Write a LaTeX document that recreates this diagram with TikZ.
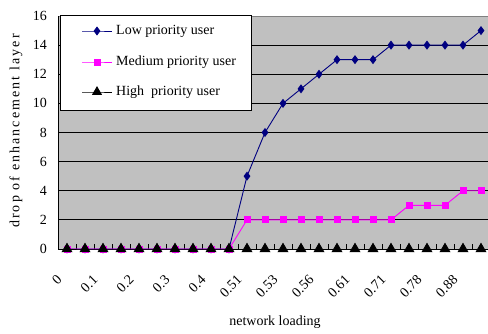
\documentclass[tikz,border=0pt]{standalone}
\usepackage{fontspec}
\setmainfont{Liberation Serif}
\usetikzlibrary{plotmarks}
\definecolor{plotgray}{HTML}{C0C0C0}
\definecolor{framegray}{HTML}{808080}
\definecolor{lowblue}{HTML}{000080}
\definecolor{medpink}{HTML}{FF00FF}

\begin{document}
\begin{tikzpicture}[x=1pt, y=-1pt,
  font=\fontsize{14}{16}\selectfont,
  gridline/.style={black, line width=0.8pt},
  lowline/.style={lowblue, line width=0.9pt, mark=diamond*, mark size=3.8pt,
    mark options={solid, fill=lowblue, draw=lowblue}},
  medline/.style={medpink, line width=0.9pt, mark=square*, mark size=3pt,
    mark options={solid, fill=medpink, draw=medpink}},
  highline/.style={black, line width=0.9pt, mark=triangle*, mark size=5.5pt,
    mark options={solid, fill=black, draw=black}},
  ticklabel/.style={inner sep=0pt},
  legendtext/.style={anchor=west, inner sep=0pt}
]
\useasboundingbox (0,0) rectangle (488,333);

% plot area
\fill[plotgray] (58,16) rectangle (488,249);
\foreach \v in {2,4,...,14}
  \draw[gridline] (58,{249-\v*14.5625}) -- (488,{249-\v*14.5625});
\draw[framegray, line width=0.8pt] (58,16) -- (488,16);

% axes
\draw[black, line width=0.9pt] (58,16) -- (58,249) -- (488,249);
\foreach \k in {1,...,23}
  \draw[black, line width=0.7pt] ({58+18*\k},249) -- ({58+18*\k},244);

% value axis labels
\foreach \v in {0,2,...,16}
  \node[ticklabel, anchor=east] (ylab\v) at (47,{249-\v*14.5625}) {\v};

% category axis labels
\foreach \i/\t in {0/0, 2/0.1, 4/0.2, 6/0.3, 8/0.4, 10/0.51, 12/0.53,
                   14/0.56, 16/0.61, 18/0.71, 20/0.78, 22/0.88}
  \node[ticklabel, rotate=45, anchor=east] (xlab\i) at ({67+18*\i-7.5},277.5) {\t};

% axis titles
\node[rotate=90, inner sep=0pt] (ytitle) at (16,131)
  {\addfontfeature{LetterSpace=15}drop of enhancement layer};
\node[inner sep=0pt] (xtitle) at (275,322) {network loading};

% data series
\begin{scope}[shift={(67pt,-249pt)}, x=18pt, y=14.5625pt]
  \draw[lowline] plot coordinates {
    (0,0) (1,0) (2,0) (3,0) (4,0) (5,0) (6,0) (7,0) (8,0) (9,0)
    (10,5) (11,8) (12,10) (13,11) (14,12) (15,13) (16,13) (17,13)
    (18,14) (19,14) (20,14) (21,14) (22,14) (23,15)};
  \draw[medline] plot coordinates {
    (0,0) (1,0) (2,0) (3,0) (4,0) (5,0) (6,0) (7,0) (8,0) (9,0)
    (10,2) (11,2) (12,2) (13,2) (14,2) (15,2) (16,2) (17,2)
    (18,2) (19,3) (20,3) (21,3) (22,4) (23,4)};
  \draw[highline] plot coordinates {
    (0,0) (1,0) (2,0) (3,0) (4,0) (5,0) (6,0) (7,0) (8,0) (9,0)
    (10,0) (11,0) (12,0) (13,0) (14,0) (15,0) (16,0) (17,0)
    (18,0) (19,0) (20,0) (21,0) (22,0) (23,0)};
\end{scope}

% legend
\node[draw=black, fill=white, line width=0.7pt, inner sep=0pt,
      minimum width=191pt, minimum height=95pt, anchor=north west] (legend) at (60,15) {};
\draw[lowline, mark indices={2}] plot coordinates {(82,31) (97,31) (112,31)};
\node[legendtext] (lowtext) at (116,31) {Low priority user};
\draw[medline, mark indices={2}] plot coordinates {(82,62) (97,62) (112,62)};
\node[legendtext] (medtext) at (116,62) {Medium priority user};
\draw[highline, mark size=5pt, mark indices={2}] plot coordinates {(82,92) (97,92) (112,92)};
\node[legendtext] (hightext) at (116,92) {High\ \ priority user};
\end{tikzpicture}
\end{document}
